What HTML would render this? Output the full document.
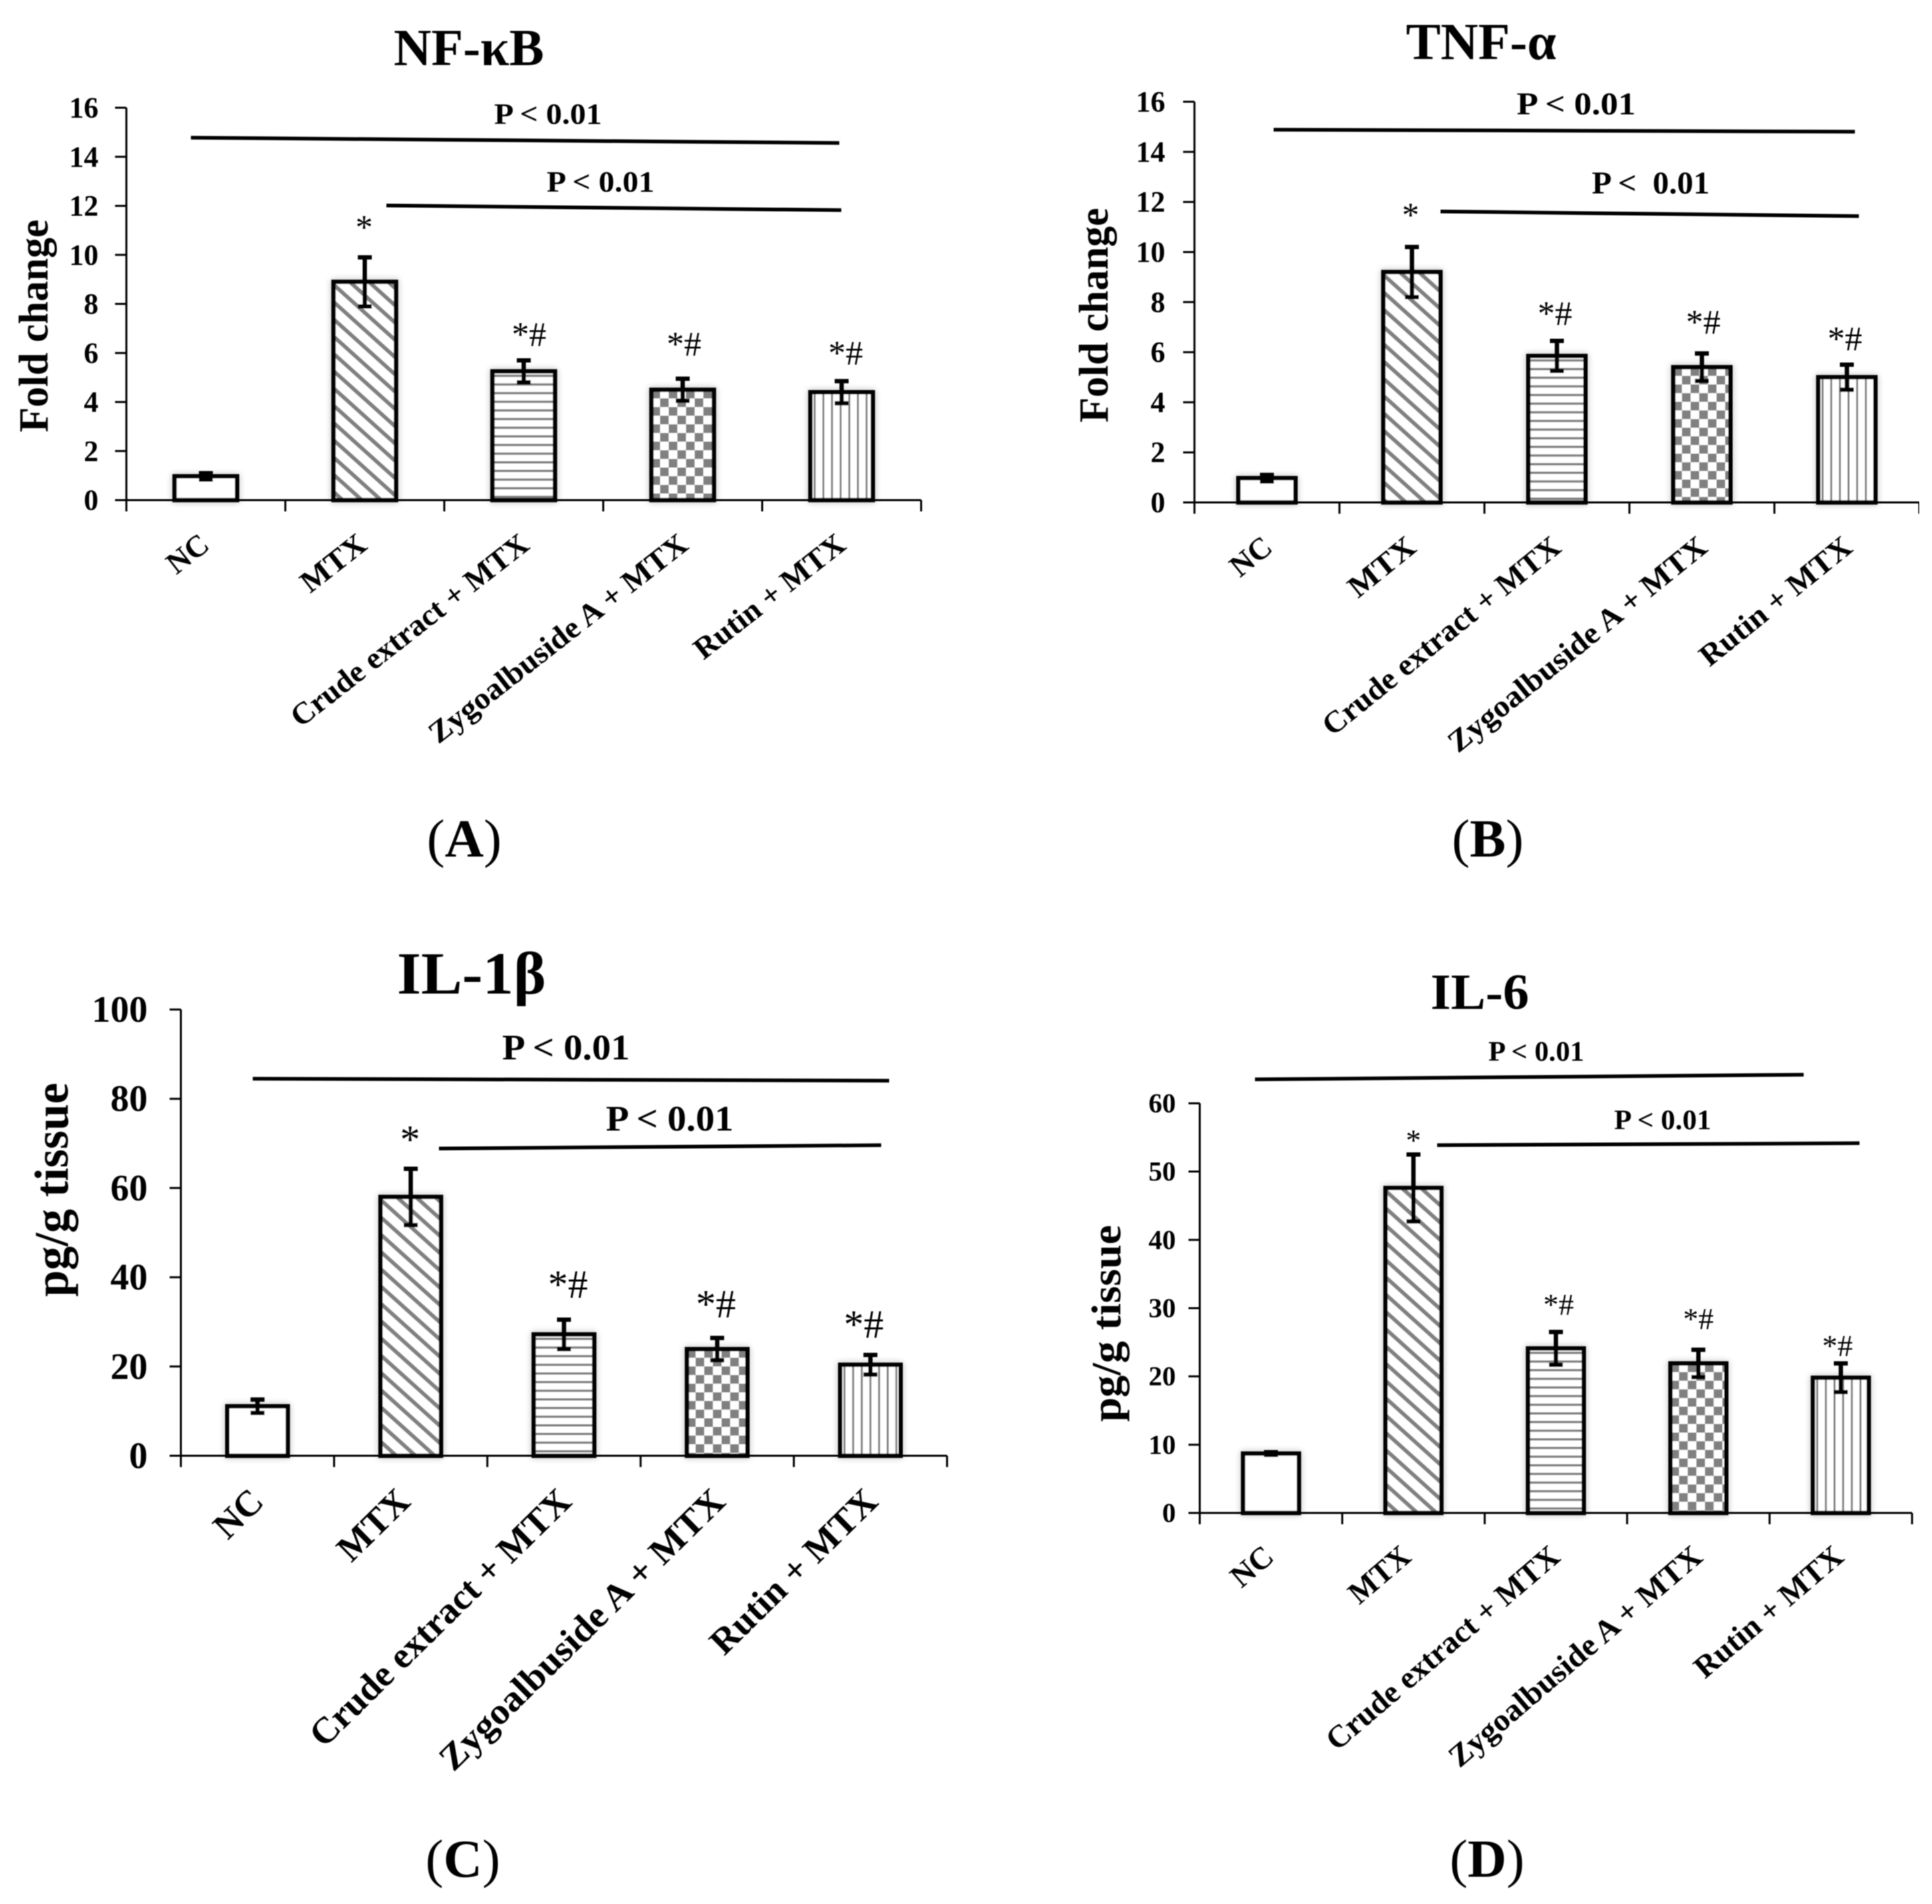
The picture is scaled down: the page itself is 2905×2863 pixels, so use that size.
<!DOCTYPE html>
<html lang="en">
<head>
<meta charset="utf-8">
<title>Cytokine bar charts</title>
<style>
html,body{margin:0;padding:0;background:#fff;}
svg{display:block;}
text{font-family:"Liberation Serif","DejaVu Serif",serif;fill:#000;}
</style>
</head>
<body>
<svg id="figure" xmlns="http://www.w3.org/2000/svg" width="2905" height="2863" viewBox="0 0 2905 2863">
  <defs>
    <filter id="soften" x="0" y="0" width="100%" height="100%" filterUnits="objectBoundingBox"><feGaussianBlur stdDeviation="0.7"/></filter>
    <filter id="halo" x="-30%" y="-30%" width="160%" height="160%"><feGaussianBlur stdDeviation="5"/></filter>
    <pattern id="hatch-diagonal" patternUnits="userSpaceOnUse" width="19.3" height="19.3" patternTransform="rotate(42)">
      <rect width="19.3" height="19.3" fill="#fff"/><rect y="0" width="19.3" height="6" fill="#808080"/>
    </pattern>
    <pattern id="hatch-horizontal" patternUnits="userSpaceOnUse" width="13" height="13">
      <rect width="13" height="13" fill="#fff"/><rect y="5" width="13" height="3.5" fill="#808080"/>
    </pattern>
    <pattern id="hatch-check" patternUnits="userSpaceOnUse" width="26" height="26">
      <rect width="26" height="26" fill="#fff"/><rect width="13" height="13" fill="#808080"/><rect x="13" y="13" width="13" height="13" fill="#808080"/>
    </pattern>
    <pattern id="hatch-vertical" patternUnits="userSpaceOnUse" width="13" height="13">
      <rect width="13" height="13" fill="#fff"/><rect x="5" width="3" height="13" fill="#808080"/>
    </pattern>
  </defs>
  <rect width="2905" height="2863" fill="#fff"/>
  <g id="root" filter="url(#soften)"></g>
</svg>
<script>
// ---- data ----
const categories = ["NC", "MTX", "Crude extract + MTX", "Zygoalbuside A + MTX", "Rutin + MTX"];
const markers = ["", "*", "*#", "*#", "*#"];
const nfkbMeans = [0.97, 8.9, 5.25, 4.5, 4.4];
const nfkbErrors = [0.13, 1.0, 0.45, 0.45, 0.45];
const nfkbTicks = [0, 2, 4, 6, 8, 10, 12, 14, 16];
const tnfMeans = [0.97, 9.2, 5.85, 5.4, 5.0];
const tnfErrors = [0.13, 1.0, 0.6, 0.55, 0.5];
const tnfTicks = [0, 2, 4, 6, 8, 10, 12, 14, 16];
const il1Means = [11.1, 58.0, 27.2, 23.9, 20.4];
const il1Errors = [1.5, 6.3, 3.3, 2.5, 2.2];
const il1Ticks = [0, 20, 40, 60, 80, 100];
const il6Means = [8.7, 47.6, 24.1, 21.9, 19.8];
const il6Errors = [0.2, 4.9, 2.4, 2.0, 2.1];
const il6Ticks = [0, 10, 20, 30, 40, 50, 60];
const fills = ["#fff", "url(#hatch-diagonal)", "url(#hatch-horizontal)", "url(#hatch-check)", "url(#hatch-vertical)"];

// ---- panel layout ----
const panels = [
  {key:"a", title:"NF-κB", tx:705, ty:98, tf:78, tl:226, yTitle:"Fold change", ytx:51, yty:490, ytf:62, ytl:320,
   left:190, right:1385, top:162, bottom:752, yMax:16, ticks:nfkbTicks, means:nfkbMeans, errors:nfkbErrors,
   barW:100, tickF:44, tickX:148, labF:46, labL:[0,112,440,480,275], labShift:[1,-1,4,4,2], labDx:7, labDy:72, angle:38,
   lift:[0,28,22,35,25], markDx:[0,-1,8,2,6], markF:52,
   sig:[["P < 0.01",824,186,162,287,207,1262,215,44],["P < 0.01",903,288,162,581,309,1265,316,44]],
   tag:"A", tagX:698, tagY:1288, tagF:81},
  {key:"b", title:"TNF-α", tx:2227, ty:89, tf:78, tl:226, yTitle:"Fold change", ytx:1645, yty:474, ytf:62, ytl:323,
   left:1796, right:2886, top:153, bottom:755.5, yMax:16, ticks:tnfTicks, means:tnfMeans, errors:tnfErrors,
   barW:92, tickF:44, tickX:1752, labF:46, labL:[0,116,446,486,280], labShift:[4,2,2,4,4], labDx:7, labDy:72, angle:39,
   lift:[0,31,24,30,22], markDx:[0,-2,-3,2,-3], markF:52,
   sig:[["P < 0.01",2370,172,179,1915,195,2789,198,48],["P <  0.01",2482,291,177,2166,318,2795,325,48]],
   tag:"B", tagX:2237, tagY:1288, tagF:81},
  {key:"c", title:"IL-1β", tx:709, ty:1494, tf:90, tl:224, yTitle:"pg/g tissue", ytx:78, yty:1789, ytf:72, ytl:322,
   left:272, right:1424, top:1518, bottom:2189, yMax:100, ticks:il1Ticks, means:il1Means, errors:il1Errors,
   barW:97, tickF:56, tickX:222, labF:55, labL:[0,128,526,577,328], labShift:[3,-7,5,6,5], labDx:9, labDy:72, angle:44.5,
   lift:[0,24,33,31,26], markDx:[0,-1,6,-2,-10], markF:60,
   sig:[["P < 0.01",851,1593,192,380,1622,1337,1625,54],["P < 0.01",1007,1700,192,660,1727,1325,1722,54]],
   tag:"C", tagX:696, tagY:2822, tagF:81},
  {key:"d", title:"IL-6", tx:2225, ty:1517, tf:76, tl:148, yTitle:"pg/g tissue", ytx:1664, yty:1990, ytf:62, ytl:296,
   left:1804, right:2875, top:1659, bottom:2275, yMax:60, ticks:il6Ticks, means:il6Means, errors:il6Errors,
   barW:90, tickF:41, tickX:1768, labF:47, labL:[0,106,445,484,278], labShift:[0,-8,2,2,0], labDx:7, labDy:70, angle:40.5,
   lift:[0,6,26,31,11], markDx:[0,0,4,0,-5], markF:46,
   sig:[["P < 0.01",2310,1595,144,1887,1623,2712,1616,42],["P < 0.01",2500,1698,146,2161,1722,2796,1719,42]],
   tag:"D", tagX:2236, tagY:2822, tagF:81}
];

const NS = "http://www.w3.org/2000/svg";
const root = document.getElementById("root");

function make(parent, tag, attrs) {
  const el = document.createElementNS(NS, tag);
  for (const k in attrs) el.setAttribute(k, attrs[k]);
  parent.appendChild(el);
  return el;
}

function drawPanel(p) {
  const g = make(root, "g", {});
  
  

  const yScale = v => p.bottom - (v / p.yMax) * (p.bottom - p.top);
  const band = (p.right - p.left) / categories.length;
  const xCenter = i => p.left + (i + 0.5) * band;
  const xEdge = i => p.left + i * band;

  // title
  const title = make(g, "text", {x:p.tx, y:p.ty, "text-anchor":"middle", "font-size":p.tf, "font-weight":"bold", textLength:p.tl, lengthAdjust:"spacingAndGlyphs"});
  title.textContent = p.title;
  
  

  // y axis title
  const yt = make(g, "text", {x:0, y:0, transform:`translate(${p.ytx + p.ytf*0.33},${p.yty}) rotate(-90)`, "text-anchor":"middle", "font-size":p.ytf, "font-weight":"bold", textLength:p.ytl, lengthAdjust:"spacingAndGlyphs"});
  yt.textContent = p.yTitle;
  
  

  // bars
  categories.forEach((c, i) => {
    const w = p.barW - 6;
    const yTop = yScale(p.means[i]);
    const h = p.bottom - yTop;
    const bar = make(g, "g", {transform:`translate(${xCenter(i) - w/2},${yTop})`});
    
    
    make(bar, "rect", {x:0, y:0, width:w, height:h, fill:"none", stroke:"#000", "stroke-width":6.5, opacity:0.28, filter:"url(#halo)"});
    // fill pattern anchored to the bar's own origin
    make(bar, "rect", {x:0, y:0, width:w, height:h, fill:fills[i]});
    make(bar, "rect", {x:0, y:0, width:w, height:h, fill:"none", stroke:"#000", "stroke-width":6.5});
  });

  // error bars
  categories.forEach((c, i) => {
    const cx = xCenter(i);
    const yHi = yScale(p.means[i] + p.errors[i]);
    const yLo = yScale(p.means[i] - p.errors[i]);
    const eb = make(g, "g", {stroke:"#000", "stroke-width":6.5, fill:"none"});
    
    
    make(eb, "line", {x1:cx, x2:cx, y1:yHi, y2:yLo});
    make(eb, "line", {x1:cx-10.5, x2:cx+10.5, y1:yHi, y2:yHi});
    make(eb, "line", {x1:cx-10.5, x2:cx+10.5, y1:yLo, y2:yLo});
  });

  // axes
  const axes = make(g, "g", {stroke:"#000", "stroke-width":3, fill:"none"});
  
  
  make(axes, "line", {x1:p.left, x2:p.left, y1:p.top, y2:p.bottom + 17});
  make(axes, "line", {x1:p.left - 17, x2:p.right, y1:p.bottom, y2:p.bottom});

  // y ticks
  p.ticks.forEach(t => {
    const y = yScale(t);
    const tk = make(axes, "line", {x1:p.left - 17, x2:p.left, y1:y, y2:y});
    
    
    const lb = make(g, "text", {x:p.tickX, y:y + p.tickF*0.33, "text-anchor":"end", "font-size":p.tickF, "font-weight":"bold"});
    lb.textContent = String(t);
    
    
  });

  // x ticks
  for (let i = 1; i <= categories.length; i++) {
    const tk = make(axes, "line", {x1:xEdge(i), x2:xEdge(i), y1:p.bottom, y2:p.bottom + 17});
    
    
  }

  // x labels
  categories.forEach((c, i) => {
    const attrs = {x:0, y:0, transform:`translate(${xCenter(i)+p.labDx+p.labShift[i]},${p.bottom+p.labDy}) rotate(-${p.angle})`, "text-anchor":"end", "font-size":p.labF, "font-weight":"bold"};
    if (p.labL[i]) { attrs.textLength = p.labL[i]; attrs.lengthAdjust = "spacingAndGlyphs"; }
    const lb = make(g, "text", attrs);
    lb.textContent = c;
    
    
  });

  // significance markers
  categories.forEach((c, i) => {
    if (!markers[i]) return;
    const m = make(g, "text", {x:xCenter(i) + p.markDx[i], y:yScale(p.means[i] + p.errors[i]) - p.lift[i], "text-anchor":"middle", "font-size":p.markF});
    m.textContent = markers[i];
    
    
  });

  // p-value annotations
  p.sig.forEach(s => {
    const t = make(g, "text", {x:s[1], y:s[2], "text-anchor":"middle", "font-size":s[8], "font-weight":"bold", textLength:s[3], lengthAdjust:"spacingAndGlyphs", style:"white-space:pre"});
    t.textContent = s[0];
    
    
    const l = make(g, "line", {x1:s[4], y1:s[5], x2:s[6], y2:s[7], stroke:"#000", "stroke-width":5.5});
    
    
  });

  // panel tag
  const tag = make(g, "text", {x:p.tagX, y:p.tagY, "text-anchor":"middle", "font-size":p.tagF});
  
  
  const a = make(tag, "tspan", {}); a.textContent = "(";
  const b = make(tag, "tspan", {"font-weight":"bold"}); b.textContent = p.tag;
  const d = make(tag, "tspan", {}); d.textContent = ")";
}

panels.forEach(drawPanel);
</script>
</body>
</html>
